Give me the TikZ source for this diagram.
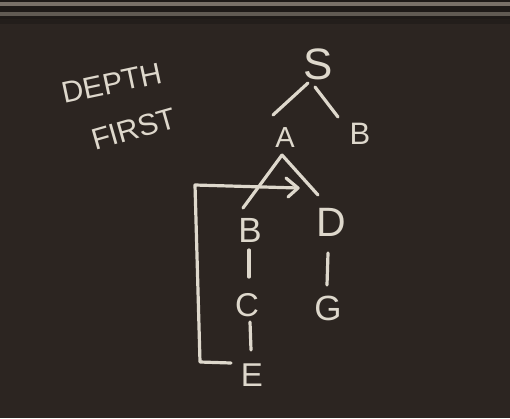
\documentclass[tikz,border=0pt]{standalone}
\usepackage{fontspec}
\setmainfont{Liberation Sans}
\usetikzlibrary{arrows.meta}
\definecolor{board}{RGB}{44,37,33}
\definecolor{chalk}{RGB}{222,216,204}
\definecolor{frameA}{RGB}{120,112,104}
\definecolor{frameB}{RGB}{30,26,24}
\tikzset{
  letter/.style={text=chalk, inner sep=0pt, font=\fontsize{#1}{#1}\selectfont},
  chalkline/.style={draw=chalk, line width=3.2pt, line cap=round, line join=round},
}
\begin{document}
\begin{tikzpicture}[x=1pt,y=-1pt]
\useasboundingbox (0,0) rectangle (510,418);
\fill[board] (0,0) rectangle (510,418);
% board frame at top
\fill[frameB] (0,0) rectangle (510,22);
\fill[frameA] (0,2) rectangle (510,6);
\fill[frameA!80!black] (0,12) rectangle (510,16);
\fill[board!80!black] (0,19) rectangle (510,24);
% title
\node[letter=30, rotate=12] (t1) at (112,83) {DEPTH};
\node[letter=30, rotate=16] (t2) at (134,129) {FIRST};
% nodes
\node[letter=44] (S) at (318,64) {S};
\node[letter=29] (A) at (285,138) {A};
\node[letter=31] (B1) at (360,134) {B};
\node[letter=35] (B2) at (250,230) {B};
\node[letter=41] (D) at (331,222) {D};
\node[letter=33] (C) at (247,305) {C};
\node[letter=35] (G) at (328,308) {G};
\node[letter=33] (E) at (252,375) {E};
% edges
\coordinate (ap) at (282,155);
\draw[chalkline] ([shift={(-10,19)}]S.center) -- ([shift={(-45,51)}]S.center);
\draw[chalkline] ([shift={(-3,23)}]S.center) -- ([shift={(20,53)}]S.center);
\draw[chalkline] (ap) -- ([shift={(-7,-22)}]B2.center);
\draw[chalkline] (ap) -- ([shift={(-13,-27)}]D.center);
\draw[chalkline] ([shift={(-1,20)}]B2.center) -- ([shift={(2,-28)}]C.center);
\draw[chalkline] ([shift={(3,17)}]C.center) -- ([shift={(-1,-25)}]E.center);
\draw[chalkline] ([shift={(-3,31)}]D.center) -- ([shift={(-1,-23)}]G.center);
% bracket arrow
\coordinate (br1) at (195,185);
\coordinate (br2) at (200,362);
\coordinate (br3) at (231,363);
\coordinate (ar) at (298,188);
\draw[chalkline] (br3) -- (br2) -- (br1) -- (ar);
\draw[chalkline] ([shift={(-12,-10)}]ar) -- (ar) -- ([shift={(-10,9)}]ar);
\end{tikzpicture}
\end{document}
